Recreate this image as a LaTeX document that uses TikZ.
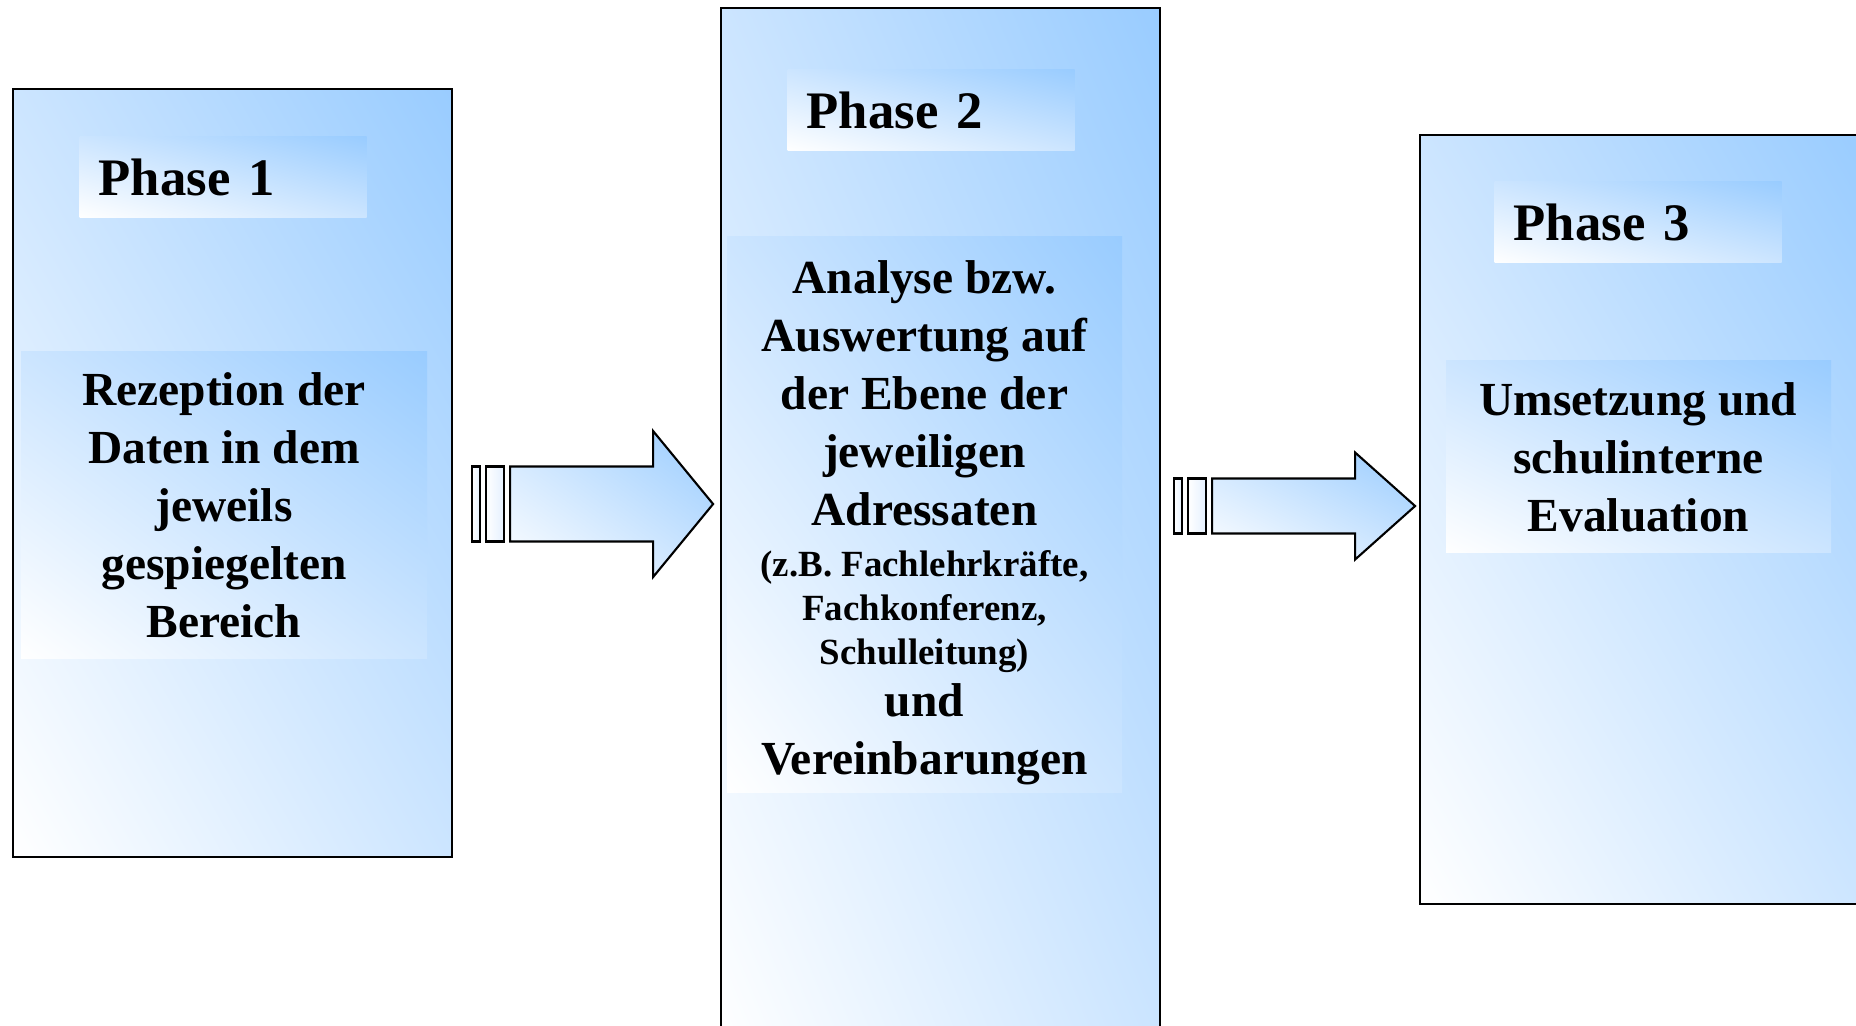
\documentclass[tikz,border=0pt]{standalone}
\usepackage{fontspec}
\setmainfont{Liberation Serif}
\usepackage{tikz}
\usetikzlibrary{calc}
\usetikzlibrary{shadings}

\definecolor{phaseblue}{HTML}{99CCFF}
\definecolor{midblue}{HTML}{CCE5FF}
\definecolor{barblue}{HTML}{E4F0FF}

\newcommand{\smalltext}{\fontsize{10.5}{12.6}\selectfont}

\begin{document}
\begin{tikzpicture}[
	boxfill/.style={lower left=white,upper left=midblue,upper right=phaseblue,lower right=midblue},
	phasebox/.style={draw=black,line width=0.6pt,boxfill,anchor=north west,minimum width=4.39cm,inner sep=0pt},
	phaselabel/.style={boxfill,anchor=north west,minimum height=0.81cm,text width=2.49cm,inner xsep=0.19cm,inner ysep=0pt,align=left,font=\fontsize{15}{18}\selectfont\bfseries},
	textbox/.style={boxfill,inner sep=0pt,align=center,font=\fontsize{13.5}{16.5}\selectfont\bfseries},
	arrowbody/.style={draw=black,line width=0.6pt,boxfill},
	arrowbar/.style={draw=black,line width=0.6pt,left color=white,right color=barblue}
	]
	
	% 画布大小
	\useasboundingbox (0,0) rectangle (18.56,10.26);
	\clip (0,0) rectangle (18.56,10.26);
	
	% 绘制三个阶段的方框
	\node[phasebox,minimum height=7.68cm] (box1) at (0.12,9.38) {};
	\node[phasebox,minimum height=10.5cm] (box2) at (7.20,10.19) {};
	\node[phasebox,minimum width=4.45cm,minimum height=7.69cm] (box3) at (14.19,8.92) {};
	
	% 阶段标题
	\node[phaselabel] (lab1) at (0.79,8.90) {Phase 1};
	\node[phaselabel] (lab2) at (7.87,9.57) {Phase 2};
	\node[phaselabel] (lab3) at (14.94,8.45) {Phase 3};
	
	% 阶段内容
	\node[textbox,minimum width=4.06cm,minimum height=3.07cm] (txt1) at (2.24,5.205)
		{Rezeption der\\ Daten in dem\\ jeweils\\ gespiegelten\\ Bereich};
	\node[textbox,minimum width=3.95cm,minimum height=5.56cm] (txt2) at (9.245,5.11)
		{\rule{0pt}{0.49cm}Analyse bzw.\\ Auswertung auf\\ der Ebene der\\ jeweiligen\\ Adressaten\\[-2pt]
		\smalltext (z.B. Fachlehrkräfte,\\[-4pt] \smalltext Fachkonferenz,\\[-4pt]
		\smalltext Schulleitung)\\[-1.7pt] und\\ Vereinbarungen};
	\node[textbox,minimum width=3.85cm,minimum height=1.92cm] (txt3) at (16.385,5.69)
		{Umsetzung und\\ schulinterne\\ Evaluation};
	
	% 计算箭头的起点
	\coordinate (a1) at ($(box1.east)+(0.19,-0.31)$);
	\coordinate (a2) at ($(box2.east)+(0.13,0.27)$);
	
	% 绘制箭头
	\foreach \a/\h/\H in {a1/0.375/0.73, a2/0.275/0.535}{
		\draw[arrowbar] ($(\a)+(0,-\h)$) rectangle ($(\a)+(0.08,\h)$);
		\draw[arrowbar] ($(\a)+(0.14,-\h)$) rectangle ($(\a)+(0.32,\h)$);
		\draw[arrowbody] ($(\a)+(0.38,-\h)$) -- ($(\a)+(1.81,-\h)$) -- ($(\a)+(1.81,-\H)$)
			-- ($(\a)+(2.41,0)$) -- ($(\a)+(1.81,\H)$) -- ($(\a)+(1.81,\h)$)
			-- ($(\a)+(0.38,\h)$) -- cycle;
	}
	
\end{tikzpicture}
\end{document}
